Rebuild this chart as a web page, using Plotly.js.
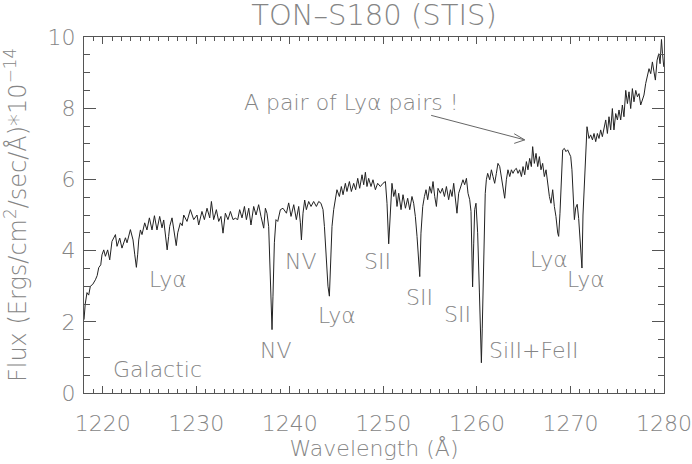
<!DOCTYPE html>
<html>
<head>
<meta charset="utf-8">
<script src="https://cdn.plot.ly/plotly-3.0.1.min.js"></script>
<style>
  html, body { margin: 0; padding: 0; background: #fff; }
  #spec { width: 692px; height: 464px; }
</style>
</head>
<body>
<div id="spec"></div>
<script>
// wavelength (Angstrom) and flux (1e-14 erg/cm2/s/A)
var wave = [
  1218.00, 1218.13, 1218.32, 1218.50, 1218.68, 1218.93, 1219.22, 1219.41, 1219.57, 1219.79,
  1219.92, 1220.11, 1220.29, 1220.53, 1220.75, 1220.99, 1221.36, 1221.53, 1221.82, 1222.06,
  1222.43, 1222.60, 1222.96, 1223.24, 1223.42, 1223.60, 1223.74, 1223.85, 1224.03, 1224.20,
  1224.49, 1224.73, 1224.99, 1225.27, 1225.53, 1225.80, 1226.09, 1226.34, 1226.52, 1226.70,
  1226.89, 1227.05, 1227.16, 1227.41, 1227.64, 1227.86, 1228.02, 1228.30, 1228.50, 1228.66,
  1229.01, 1229.37, 1229.73, 1230.08, 1230.26, 1230.61, 1230.87, 1231.15, 1231.44, 1231.62,
  1231.86, 1232.15, 1232.40, 1232.64, 1232.86, 1233.11, 1233.39, 1233.65, 1233.93, 1234.18,
  1234.43, 1234.64, 1234.89, 1235.15, 1235.36, 1235.61, 1235.85, 1236.14, 1236.39, 1236.67,
  1236.92, 1237.21, 1237.39, 1237.56, 1237.74, 1237.85, 1237.99, 1238.10, 1238.20, 1238.35,
  1238.52, 1238.71, 1238.99, 1239.27, 1239.64, 1239.88, 1240.13, 1240.42, 1240.70, 1240.95,
  1241.13, 1241.24, 1241.41, 1241.59, 1241.77, 1242.02, 1242.27, 1242.55, 1242.84, 1243.09,
  1243.33, 1243.55, 1243.70, 1243.87, 1244.08, 1244.23, 1244.37, 1244.51, 1244.69, 1244.87,
  1245.04, 1245.30, 1245.51, 1245.69, 1245.94, 1246.11, 1246.37, 1246.58, 1246.83, 1247.04,
  1247.26, 1247.47, 1247.72, 1247.90, 1248.08, 1248.25, 1248.43, 1248.68, 1248.89, 1249.15,
  1249.39, 1249.68, 1249.96, 1250.22, 1250.39, 1250.57, 1250.75, 1250.92, 1251.11, 1251.29,
  1251.46, 1251.64, 1251.89, 1252.10, 1252.36, 1252.60, 1252.82, 1253.06, 1253.24, 1253.42,
  1253.60, 1253.78, 1253.89, 1254.02, 1254.21, 1254.39, 1254.56, 1254.74, 1254.95, 1255.14,
  1255.31, 1255.49, 1255.67, 1255.84, 1256.10, 1256.31, 1256.53, 1256.74, 1256.98, 1257.17,
  1257.34, 1257.52, 1257.70, 1257.87, 1258.05, 1258.30, 1258.51, 1258.69, 1258.88, 1259.05,
  1259.23, 1259.37, 1259.48, 1259.54, 1259.66, 1259.76, 1259.90, 1260.00, 1260.08, 1260.27,
  1260.37, 1260.48, 1260.57, 1260.66, 1260.79, 1260.89, 1261.01, 1261.15, 1261.37, 1261.55,
  1261.72, 1261.90, 1262.08, 1262.25, 1262.44, 1262.62, 1262.79, 1262.97, 1263.15, 1263.32,
  1263.51, 1263.69, 1263.86, 1264.04, 1264.22, 1264.39, 1264.57, 1264.76, 1264.93, 1265.11,
  1265.29, 1265.46, 1265.64, 1265.82, 1265.96, 1266.14, 1266.32, 1266.50, 1266.68, 1266.85,
  1267.03, 1267.21, 1267.39, 1267.57, 1267.75, 1267.92, 1268.10, 1268.28, 1268.45, 1268.64,
  1268.74, 1268.88, 1269.03, 1269.17, 1269.35, 1269.52, 1269.70, 1269.89, 1270.03, 1270.16,
  1270.27, 1270.42, 1270.56, 1270.72, 1270.88, 1271.04, 1271.15, 1271.23, 1271.34, 1271.47,
  1271.57, 1271.68, 1271.77, 1271.98, 1272.16, 1272.35, 1272.52, 1272.70, 1272.88, 1273.05,
  1273.23, 1273.41, 1273.59, 1273.77, 1273.95, 1274.12, 1274.30, 1274.48, 1274.65, 1274.84,
  1275.02, 1275.19, 1275.37, 1275.55, 1275.72, 1275.91, 1276.09, 1276.26, 1276.44, 1276.62,
  1276.79, 1276.98, 1277.16, 1277.33, 1277.51, 1277.69, 1277.86, 1278.04, 1278.23, 1278.40,
  1278.58, 1278.76, 1278.93, 1279.08, 1279.26, 1279.44, 1279.58, 1279.73, 1279.84, 1279.98
];
var flux = [
  2.06, 2.50, 2.82, 2.75, 3.00, 3.05, 3.18, 3.30, 3.52, 3.60,
  3.88, 4.02, 3.84, 4.02, 3.74, 4.26, 4.45, 4.12, 4.35, 4.07,
  4.36, 4.22, 4.59, 4.30, 3.90, 3.53, 3.90, 4.30, 4.58, 4.45,
  4.78, 4.58, 4.92, 4.58, 4.98, 4.58, 4.96, 4.64, 4.86, 4.50,
  4.02, 4.40, 4.68, 4.92, 4.50, 4.14, 4.50, 4.78, 4.70, 5.00,
  4.82, 5.15, 4.87, 5.00, 4.72, 5.10, 4.87, 5.19, 4.92, 5.38,
  4.87, 5.15, 4.82, 4.96, 4.49, 5.05, 4.87, 5.10, 4.87, 4.91,
  4.87, 5.15, 4.92, 5.24, 4.87, 5.19, 4.72, 5.24, 5.00, 5.29,
  4.96, 4.63, 5.19, 5.05, 4.68, 3.94, 2.72, 1.78, 2.72, 4.22,
  4.87, 4.82, 5.15, 5.19, 5.05, 5.34, 4.96, 5.29, 4.87, 5.24,
  4.78, 4.30, 5.05, 5.42, 5.15, 5.38, 5.24, 5.38, 5.24, 5.38,
  5.33, 5.15, 4.68, 3.84, 3.00, 2.72, 3.56, 4.68, 5.15, 5.52,
  5.71, 5.52, 5.80, 5.57, 5.89, 5.66, 5.94, 5.66, 5.89, 5.71,
  6.03, 5.75, 6.13, 5.85, 6.20, 5.80, 6.03, 5.80, 5.99, 5.71,
  5.89, 5.80, 5.89, 5.94, 5.33, 4.19, 5.24, 5.89, 5.52, 5.71,
  5.24, 5.61, 5.15, 5.57, 5.19, 5.47, 5.15, 5.52, 5.33, 4.96,
  4.40, 3.75, 3.27, 4.49, 5.24, 5.52, 5.71, 5.43, 5.80, 5.61,
  5.94, 5.52, 5.24, 5.75, 5.61, 5.75, 5.52, 5.80, 5.43, 5.71,
  5.52, 5.89, 5.52, 5.05, 5.61, 5.80, 5.99, 5.85, 6.03, 5.61,
  5.43, 5.10, 3.75, 2.98, 4.21, 5.15, 5.33, 4.90, 4.50, 2.81,
  1.32, 0.85, 1.80, 3.00, 4.60, 5.60, 5.99, 6.17, 5.99, 6.27,
  6.08, 5.89, 6.17, 6.45, 6.36, 6.08, 5.80, 5.47, 5.99, 6.27,
  6.08, 6.27, 6.17, 6.27, 6.31, 6.17, 6.27, 6.08, 6.36, 6.13,
  6.50, 6.27, 6.59, 6.36, 6.92, 6.45, 6.73, 6.36, 6.64, 6.27,
  6.45, 6.08, 6.27, 5.80, 5.52, 5.33, 5.71, 5.24, 4.96, 4.49,
  4.40, 5.05, 6.27, 6.83, 6.87, 6.78, 6.83, 6.73, 6.64, 6.27,
  5.61, 4.87, 5.20, 5.30, 4.90, 4.30, 3.80, 3.51, 5.00, 5.90,
  6.45, 7.00, 7.48, 7.15, 7.25, 7.11, 7.29, 7.06, 7.29, 7.15,
  7.39, 7.20, 7.48, 7.67, 7.29, 7.76, 7.39, 7.99, 7.39, 7.85,
  7.67, 7.95, 7.67, 8.09, 7.76, 8.50, 8.13, 8.46, 7.99, 8.55,
  8.18, 8.50, 8.32, 8.41, 8.09, 8.27, 8.37, 8.69, 8.88, 9.11,
  8.97, 9.30, 9.02, 8.79, 9.35, 9.53, 9.25, 9.93, 9.53, 9.16
];

// line identifications
var labelText = ['Ly\u03b1', 'NV', 'NV', 'Ly\u03b1', 'SII', 'SII', 'SII', 'SiII+FeII', 'Ly\u03b1', 'Ly\u03b1', 'Galactic', 'A pair of Ly\u03b1 pairs !'];
var labelX = [1226.95, 1241.17, 1238.49, 1245.01, 1249.39, 1253.88, 1257.94, 1266.07, 1267.68, 1271.64, 1225.88, 1246.51];
var labelY = [3.18, 3.69, 1.20, 2.18, 3.69, 2.68, 2.20, 1.20, 3.74, 3.18, 0.66, 8.17];

var textColor = '#858585';
var axisColor = '#555';
var font = 'DejaVu Sans, Liberation Sans, sans-serif';
var thin = 200;

var annotations = labelText.map(function (t, i) {
  return {
    x: labelX[i], y: labelY[i], xref: 'x', yref: 'y',
    text: t, showarrow: false,
    xanchor: 'center', yanchor: 'middle',
    font: {family: font, size: 22, weight: thin, color: textColor}
  };
});

// arrow pointing at the pair of pairs: shaft plus an open V head
var arrowTip = {x: 1265.11, y: 7.11};
annotations.push({
  x: arrowTip.x, y: arrowTip.y, xref: 'x', yref: 'y',
  ax: 1254.95, ay: 7.81, axref: 'x', ayref: 'y',
  text: '', showarrow: true, arrowhead: 0, standoff: 0,
  arrowwidth: 1, arrowcolor: '#666'
});
[[-12, -7], [-12, 4]].forEach(function (d) {
  annotations.push({
    x: arrowTip.x, y: arrowTip.y, xref: 'x', yref: 'y',
    ax: d[0], ay: d[1],
    text: '', showarrow: true, arrowhead: 0, standoff: 0,
    arrowwidth: 1, arrowcolor: '#666'
  });
});

var trace = {
  x: wave,
  y: flux,
  type: 'scatter',
  mode: 'lines',
  line: {color: '#222', width: 1},
  hoverinfo: 'x+y'
};

var layout = {
  width: 692,
  height: 464,
  margin: {l: 84, r: 28, t: 37, b: 71},
  paper_bgcolor: '#fff',
  plot_bgcolor: '#fff',
  showlegend: false,
  title: {
    text: 'TON\u2013S180 (STIS)',
    font: {family: font, size: 29, weight: thin, color: textColor},
    xref: 'paper', x: 0.5, xanchor: 'center',
    yref: 'container', y: 0.968, yanchor: 'middle'
  },
  xaxis: {
    range: [1218, 1280],
    dtick: 10,
    tick0: 1220,
    ticks: 'inside',
    ticklen: 7,
    tickcolor: axisColor,
    minor: {dtick: 1, ticks: 'inside', ticklen: 4, tickcolor: axisColor},
    showline: true, linecolor: axisColor, linewidth: 1,
    mirror: 'allticks',
    showgrid: false, zeroline: false,
    ticklabelstandoff: 11,
    tickfont: {family: font, size: 22, weight: thin, color: textColor},
    title: {text: 'Wavelength (\u00c5)', standoff: 4, font: {family: font, size: 22, weight: thin, color: textColor}}
  },
  yaxis: {
    range: [0, 10],
    dtick: 2,
    ticks: 'inside',
    ticklen: 12,
    tickcolor: axisColor,
    minor: {dtick: 0.5, ticks: 'inside', ticklen: 6, tickcolor: axisColor},
    showline: true, linecolor: axisColor, linewidth: 1,
    mirror: 'allticks',
    showgrid: false, zeroline: false,
    ticklabelstandoff: 3,
    tickfont: {family: font, size: 22, weight: thin, color: textColor},
    title: {text: 'Flux (Ergs/cm<sup>2</sup>/sec/\u00c5)*10<sup>\u221214</sup>', standoff: 14, font: {family: font, size: 24, weight: thin, color: textColor}}
  },
  annotations: annotations
};

Plotly.newPlot('spec', [trace], layout, {staticPlot: true, displayModeBar: false});
</script>
</body>
</html>
